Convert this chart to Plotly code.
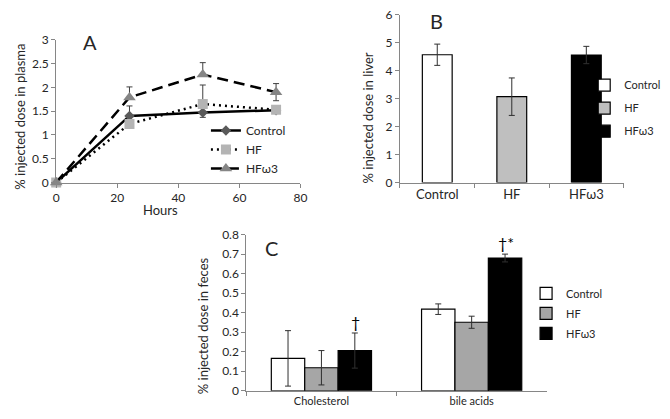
import plotly.graph_objects as go

W, H = 670, 419
def px(x): return x / W
def py(y): return 1 - y / H

# ---- Panel A data ----
hours = [0, 24, 48, 72]
plasma_control = [0, 1.40, 1.47, 1.52]
plasma_control_err_plus = [0, 0.21, 0.10, 0.03]
plasma_control_err_minus = [0, 0.21, 0.10, 0.03]
plasma_hf = [0, 1.23, 1.65, 1.53]
plasma_hf_err_plus = [0, 0.05, 0.40, 0.03]
plasma_hf_err_minus = [0, 0.0, 0.0, 0.0]
plasma_hfw3 = [0, 1.79, 2.27, 1.90]
plasma_hfw3_err_plus = [0, 0.22, 0.25, 0.18]
plasma_hfw3_err_minus = [0, 0.0, 0.0, 0.18]

# ---- Panel B data ----
liver_groups = ["Control", "HF", "HFω3"]
liver_values = [4.57, 3.07, 4.56]
liver_err = [0.38, 0.67, 0.31]

# ---- Panel C data ----
feces_categories = ["Cholesterol", "bile acids"]
feces_control = [0.166, 0.418]
feces_control_err = [0.142, 0.027]
feces_hf = [0.118, 0.351]
feces_hf_err = [0.088, 0.031]
feces_hfw3 = [0.206, 0.680]
feces_hfw3_err = [0.090, 0.020]
feces_marks = ["†", "†*"]

FONT = "Lato"
AX = "#868686"
TXT = "#262626"

fig = go.Figure()

# Panel A lines
line_specs = [
    ("Control", plasma_control, plasma_control_err_plus, plasma_control_err_minus,
     dict(color="black", width=2.5), dict(symbol="diamond", size=8, color="#5a5a5a")),
    ("HF", plasma_hf, plasma_hf_err_plus, plasma_hf_err_minus,
     dict(color="black", width=2.5, dash="2px,4px"), dict(symbol="square", size=10, color="#b4b4b4")),
    ("HFω3", plasma_hfw3, plasma_hfw3_err_plus, plasma_hfw3_err_minus,
     dict(color="black", width=2.5, dash="11px,6px"), dict(symbol="triangle-up", size=11, color="#858585")),
]
for name, ys, ep, em, ln, mk in line_specs:
    fig.add_trace(go.Scatter(
        x=hours, y=ys, name=name, mode="lines+markers", line=ln, marker=mk,
        error_y=dict(type="data", array=ep, arrayminus=em, color="#404040", thickness=1, width=3),
        xaxis="x", yaxis="y", legend="legend", cliponaxis=False, legendgroup="a" + name))

# Panel B bars
b_colors = ["white", "#bfbfbf", "black"]
for g, v, e, c in zip(liver_groups, liver_values, liver_err, b_colors):
    fig.add_trace(go.Bar(
        x=[g], y=[v], name=g, width=0.4, offset=-0.2,
        marker=dict(color=c, line=dict(color="black", width=1.2)),
        error_y=dict(type="data", array=[e], color="#303030", thickness=1, width=3),
        xaxis="x2", yaxis="y2", legend="legend2", legendgroup="b" + g))

# Panel C bars
c_specs = [("Control", feces_control, feces_control_err, "white"),
           ("HF", feces_hf, feces_hf_err, "#a6a6a6"),
           ("HFω3", feces_hfw3, feces_hfw3_err, "black")]
for name, vals, errs, c in c_specs:
    fig.add_trace(go.Bar(
        x=feces_categories, y=vals, name=name,
        marker=dict(color=c, line=dict(color="black", width=1.2)),
        error_y=dict(type="data", array=errs, color="#303030", thickness=1, width=3),
        xaxis="x3", yaxis="y3", legend="legend3", legendgroup="c" + name))

axis_common = dict(showline=True, linecolor=AX, linewidth=1, ticks="outside",
                   tickcolor=AX, ticklen=4, showgrid=False, zeroline=False,
                   tickfont=dict(family=FONT, size=12, color=TXT))

fig.update_layout(
    width=W, height=H, margin=dict(l=0, r=0, t=0, b=0),
    paper_bgcolor="white", plot_bgcolor="white",
    font=dict(family=FONT, color=TXT),
    barmode="group", bargap=0.333, bargroupgap=0,
    xaxis=dict(domain=[px(54), px(302)], range=[0, 80], tickvals=[0, 20, 40, 60, 80],
               anchor="y", **axis_common),
    yaxis=dict(domain=[py(181), py(33)], range=[0, 3], dtick=0.5, anchor="x",
               **axis_common),
    xaxis2=dict(domain=[px(403), px(630)], anchor="y2", tickson="boundaries",
                **{**axis_common, "tickfont": dict(family=FONT, size=13, color=TXT)}),
    yaxis2=dict(domain=[py(181), py(7)], range=[0, 6], dtick=1, anchor="x2",
                **axis_common),
    xaxis3=dict(domain=[px(247), px(552)], anchor="y3", tickson="boundaries",
                **{**axis_common, "tickfont": dict(family=FONT, size=11, color=TXT)}),
    yaxis3=dict(domain=[py(397), py(235)], range=[0, 0.8], dtick=0.1, anchor="x3",
                **axis_common),
    legend=dict(x=px(206), y=py(112), xanchor="left", yanchor="top",
                font=dict(family=FONT, size=12, color=TXT), bgcolor="rgba(0,0,0,0)",
                tracegroupgap=0),
    legend2=dict(x=px(590), y=py(65), xanchor="left", yanchor="top",
                 font=dict(family=FONT, size=11, color=TXT), bgcolor="rgba(0,0,0,0)",
                 tracegroupgap=4),
    legend3=dict(x=px(531), y=py(281), xanchor="left", yanchor="top",
                 font=dict(family=FONT, size=11, color=TXT), bgcolor="rgba(0,0,0,0)",
                 tracegroupgap=1),
)

ann = [
    dict(text="A", x=px(88), y=py(35), font=dict(size=20)),
    dict(text="B", x=px(440), y=py(14), font=dict(size=20)),
    dict(text="C", x=px(273), y=py(249), font=dict(size=20)),
    dict(text="% injected dose in plasma", x=px(17), y=py(113), textangle=-90, font=dict(size=13)),
    dict(text="Hours", x=px(160), y=py(210), font=dict(size=13)),
    dict(text="% injected dose in liver", x=px(370), y=py(114), textangle=-90, font=dict(size=13)),
    dict(text="% injected dose in feces", x=px(203), y=py(329), textangle=-90, font=dict(size=13)),
]
for a in ann:
    a.update(xref="paper", yref="paper", showarrow=False, xanchor="center", yanchor="middle")
    a["font"] = dict(family=FONT, color=TXT, **a["font"])
    fig.add_annotation(**a)

# significance marks above HFω3 bars in panel C
for cat, val, err, mark in zip(feces_categories, feces_hfw3, feces_hfw3_err, feces_marks):
    fig.add_annotation(x=cat, y=val + err, xref="x3", yref="y3", text=mark,
                       showarrow=False, xshift=34, yanchor="bottom",
                       font=dict(family=FONT, size=16, color="black"))

fig.write_html("out.html", config={"displayModeBar": False},
               post_script="document.body.style.margin='0';document.body.style.overflow='hidden';")
